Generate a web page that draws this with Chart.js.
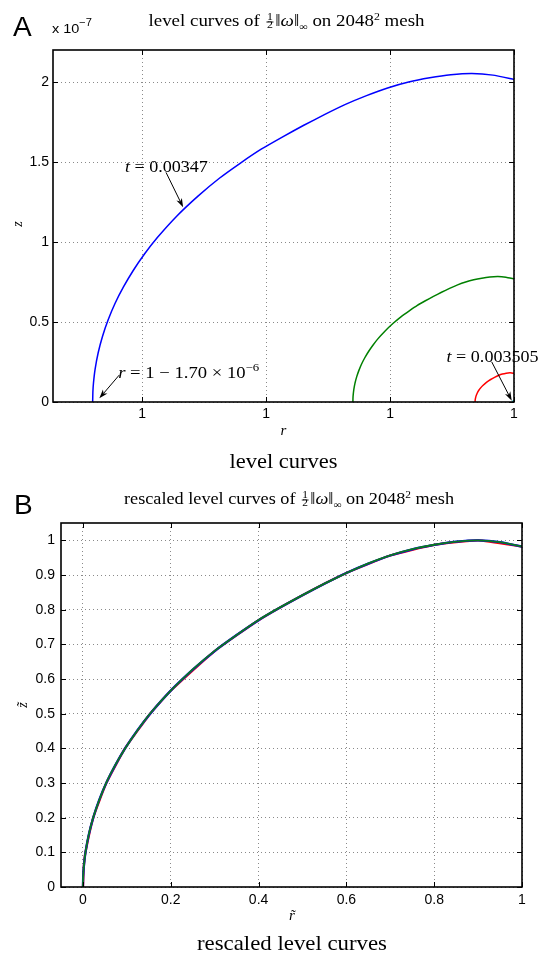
<!DOCTYPE html>
<html>
<head>
<meta charset="utf-8">
<script src="https://cdn.jsdelivr.net/npm/chart.js@4"></script>
<style>
  html, body { margin: 0; padding: 0; background: #fff; }
  body { width: 548px; height: 957px; position: relative; overflow: hidden; }
  .panel { position: absolute; left: 0; width: 548px; }
  #panelA { top: 0; height: 478px; }
  #panelB { top: 478px; height: 479px; }
  canvas { display: block; }
</style>
</head>
<body>
<div class="panel" id="panelA"><canvas id="chartA" width="548" height="478"></canvas></div>
<div class="panel" id="panelB"><canvas id="chartB" width="548" height="479"></canvas></div>
<script>
// ---- Level curves of 1/2 ||omega||_inf on the 2048^2 mesh ----
// r is stored as (r - 1) in units of 1e-6, z in units of 1e-7.

// t = 0.00347
const blueR = [-1.700, -1.6991, -1.6967, -1.6901, -1.6777, -1.6601, -1.6374, -1.6094, -1.5757, -1.5363,
               -1.4909, -1.4389, -1.360, -1.275, -1.190, -1.105, -1.020, -0.935, -0.850, -0.765,
               -0.680, -0.595, -0.510, -0.425, -0.340, -0.255, -0.170, -0.085, 0];
const blueZ = [0, 0.062, 0.119, 0.206, 0.308, 0.411, 0.514, 0.617, 0.719, 0.822,
               0.925, 1.028, 1.163, 1.287, 1.397, 1.492, 1.580, 1.656, 1.728, 1.796,
               1.860, 1.915, 1.963, 2.000, 2.026, 2.045, 2.053, 2.043, 2.016];

// intermediate level
const greenR = [-0.650, -0.6497, -0.6487, -0.6462, -0.6415, -0.6348, -0.6261, -0.6154, -0.6025, -0.5874,
                -0.5700, -0.5502, -0.520, -0.4875, -0.455, -0.4225, -0.390, -0.3575, -0.325, -0.2925,
                -0.260, -0.2275, -0.195, -0.1625, -0.130, -0.0975, -0.065, -0.0325, 0];
const greenZ = [0, 0.024, 0.046, 0.079, 0.118, 0.157, 0.196, 0.236, 0.275, 0.314,
                0.353, 0.393, 0.444, 0.492, 0.534, 0.570, 0.604, 0.633, 0.660, 0.686,
                0.710, 0.732, 0.750, 0.764, 0.774, 0.781, 0.784, 0.780, 0.770];

// red level
const redR = [-0.157, -0.1567, -0.1561, -0.1533, -0.1486, -0.1419, -0.1329, -0.1256,
              -0.1099, -0.0942, -0.0785, -0.0628, -0.0471, -0.0314, -0.0157, 0];
const redZ = [0, 0.0106, 0.0183, 0.0366, 0.0549, 0.0732, 0.0915, 0.1035,
              0.1244, 0.1407, 0.1539, 0.1656, 0.1748, 0.1804, 0.1828, 0.1795];

// t = 0.003505 (tiny curve in the corner)
const cyanR = [-0.006, -0.004, -0.001, 0];
const cyanZ = [0, 0.006, 0.008, 0.008];

// axis ticks
const xTicksA = [-1.5, -1, -0.5, 0];
const xTickLabelsA = ['1', '1', '1', '1'];
const yTicksA = [0, 0.5, 1, 1.5, 2];
const yTickLabelsA = ['0', '0.5', '1', '1.5', '2'];

const xTicksB = [0, 0.2, 0.4, 0.6, 0.8, 1];
const xTickLabelsB = ['0', '0.2', '0.4', '0.6', '0.8', '1'];
const yTicksB = [0, 0.1, 0.2, 0.3, 0.4, 0.5, 0.6, 0.7, 0.8, 0.9, 1];
const yTickLabelsB = ['0', '0.1', '0.2', '0.3', '0.4', '0.5', '0.6', '0.7', '0.8', '0.9', '1'];

// ---------------------------------------------------------------
const SERIF = '"Liberation Serif", "Times New Roman", serif';
const SANS = '"Liberation Sans", Arial, Helvetica, sans-serif';
const GRID = '#8a8a8a';

Chart.defaults.font.family = SANS;
Chart.defaults.color = '#000';

function pts(xs, ys) { return xs.map((x, i) => ({ x: x, y: ys[i] })); }

// rescale a level curve to r~ in [0,1] (r0 .. r=1) and z~ = z / max z
function rescaled(xs, ys) {
  const r0 = xs[0];
  const zmax = Math.max.apply(null, ys);
  return xs.map((x, i) => ({ x: (x - r0) / (0 - r0), y: ys[i] / zmax }));
}

function line(data, color, width) {
  return { data: data, showLine: true, borderColor: color, backgroundColor: color,
           borderWidth: width, pointRadius: 0, tension: 0.15, fill: false };
}

// rich text: runs of text, fractions and gaps, optionally stretched to a width
function measureParts(ctx, parts) {
  let w = 0;
  for (const p of parts) {
    if (p.gap !== undefined) p._w = p.gap;
    else if (p.frac) {
      ctx.font = p.font;
      p._w = Math.max(ctx.measureText(p.frac[0]).width, ctx.measureText(p.frac[1]).width) + 2 * (p.pad || 1);
    } else {
      ctx.font = p.font;
      p._w = ctx.measureText(p.t).width;
    }
    w += p._w;
  }
  return w;
}

function drawParts(ctx, parts, x, y, align, fitWidth) {
  const w = measureParts(ctx, parts);
  const sx = fitWidth ? fitWidth / w : 1;
  const total = w * sx;
  const x0 = align === 'center' ? x - total / 2 : (align === 'right' ? x - total : x);
  ctx.save();
  ctx.translate(x0, y);
  ctx.scale(sx, 1);
  ctx.fillStyle = '#000';
  ctx.strokeStyle = '#000';
  ctx.textBaseline = 'alphabetic';
  ctx.textAlign = 'left';
  let cx = 0;
  for (const p of parts) {
    if (p.gap !== undefined) { cx += p._w; continue; }
    ctx.font = p.font;
    if (p.frac) {
      const mid = cx + p._w / 2;
      ctx.textAlign = 'center';
      ctx.fillText(p.frac[0], mid, -p.axis - 2);
      ctx.fillText(p.frac[1], mid, -p.axis + p.denom);
      ctx.textAlign = 'left';
      ctx.lineWidth = 0.8;
      ctx.beginPath();
      ctx.moveTo(cx + 0.5, -p.axis);
      ctx.lineTo(cx + p._w - 0.5, -p.axis);
      ctx.stroke();
    } else {
      ctx.fillText(p.t, cx, p.dy || 0);
    }
    cx += p._w;
  }
  ctx.restore();
}

function titleParts(prefix) {
  const T = 16, S = 10;
  return [
    { t: prefix + 'level curves of ', font: T + 'px ' + SERIF },
    { gap: 1 },
    { frac: ['1', '2'], font: S + 'px ' + SERIF, axis: 4, denom: 5.5, pad: 1 },
    { gap: 1 },
    { t: '\u2016', font: T + 'px ' + SERIF },
    { t: '\u03c9', font: 'italic ' + T + 'px ' + SERIF },
    { t: '\u2016', font: T + 'px ' + SERIF },
    { t: '\u221e', font: S + 'px ' + SERIF, dy: 3.5 },
    { t: ' on 2048', font: T + 'px ' + SERIF },
    { t: '2', font: S + 'px ' + SERIF, dy: -6.5 },
    { t: ' mesh', font: T + 'px ' + SERIF }
  ];
}

function drawArrow(ctx, x1, y1, x2, y2) {
  const ang = Math.atan2(y2 - y1, x2 - x1);
  const L = 9, W = 3, back = 6.5;
  ctx.save();
  ctx.strokeStyle = '#000';
  ctx.fillStyle = '#000';
  ctx.lineWidth = 1;
  ctx.beginPath();
  ctx.moveTo(x1, y1);
  ctx.lineTo(x2 - Math.cos(ang) * back, y2 - Math.sin(ang) * back);
  ctx.stroke();
  ctx.translate(x2, y2);
  ctx.rotate(ang);
  ctx.beginPath();
  ctx.moveTo(0, 0);
  ctx.lineTo(-L, -W);
  ctx.lineTo(-back, 0);
  ctx.lineTo(-L, W);
  ctx.closePath();
  ctx.fill();
  ctx.restore();
}

// box around the axes with inward tick marks on all four sides
const boxPlugin = {
  id: 'axesBox',
  afterDatasetsDraw(chart) {
    const { ctx, chartArea: a, scales } = chart;
    const len = 5;
    ctx.save();
    ctx.strokeStyle = '#000';
    ctx.lineWidth = 1;
    ctx.beginPath();
    scales.x.ticks.forEach(t => {
      const px = Math.round(scales.x.getPixelForValue(t.value)) + 0.5;
      ctx.moveTo(px, a.bottom); ctx.lineTo(px, a.bottom - len);
      ctx.moveTo(px, a.top); ctx.lineTo(px, a.top + len);
    });
    scales.y.ticks.forEach(t => {
      const py = Math.round(scales.y.getPixelForValue(t.value)) + 0.5;
      ctx.moveTo(a.left, py); ctx.lineTo(a.left + len, py);
      ctx.moveTo(a.right, py); ctx.lineTo(a.right - len, py);
    });
    ctx.stroke();
    ctx.lineWidth = 1.6;
    ctx.strokeRect(a.left, a.top, a.right - a.left, a.bottom - a.top);
    ctx.restore();
  }
};

function rotatedText(ctx, text, font, x, y) {
  ctx.save();
  ctx.translate(x, y);
  ctx.rotate(-Math.PI / 2);
  ctx.font = font;
  ctx.fillStyle = '#000';
  ctx.textAlign = 'center';
  ctx.textBaseline = 'middle';
  ctx.fillText(text, 0, 0);
  ctx.restore();
}

function axisOptions(ticks, labels, min, max, size, padding) {
  return {
    type: 'linear',
    min: min,
    max: max,
    afterBuildTicks: s => { s.ticks = ticks.map(v => ({ value: v })); },
    afterFit: s => { if (s.isHorizontal()) s.height = size; else s.width = size; },
    ticks: {
      callback: (v, i) => labels[i],
      font: { family: SANS, size: 14 },
      color: '#000',
      padding: padding,
      autoSkip: false,
      maxRotation: 0,
      minRotation: 0
    },
    grid: { color: GRID, lineWidth: 1, drawTicks: false },
    border: { display: false, dash: [1, 3] }
  };
}

// ---------------- Panel A ----------------
const annotationsA = {
  id: 'annotationsA',
  afterDraw(chart) {
    const { ctx, scales: { x, y } } = chart;
    const px = v => x.getPixelForValue(v);
    const py = v => y.getPixelForValue(v);

    // panel letter and title
    ctx.save();
    ctx.fillStyle = '#000';
    ctx.font = '28px ' + SANS;
    ctx.textBaseline = 'alphabetic';
    ctx.fillText('A', 13, 36);
    ctx.restore();
    drawParts(ctx, titleParts(''), 286.5, 26, 'center', 276);

    // exponent of the z axis
    drawParts(ctx, [
      { t: 'x 10', font: '13px ' + SANS },
      { t: '\u22127', font: '10px ' + SANS, dy: -7 }
    ], 52, 33, 'left', 40);

    // axis labels and caption
    drawParts(ctx, [{ t: 'r', font: 'italic 15px ' + SERIF }], 283.5, 435, 'center');
    rotatedText(ctx, 'z', 'italic 14px ' + SERIF, 18, 224);
    drawParts(ctx, [{ t: 'level curves', font: '21px ' + SERIF }], 283.5, 468, 'center', 108);

    // curve labels with arrows
    drawParts(ctx, [
      { t: 't', font: 'italic 16px ' + SERIF },
      { t: ' = 0.00347', font: '16px ' + SERIF }
    ], px(-1.570), py(1.439), 'left', 83);
    drawArrow(ctx, px(-1.404), py(1.435), px(-1.335), py(1.217));

    drawParts(ctx, [
      { t: 'r', font: 'italic 16px ' + SERIF },
      { t: ' = 1 \u2212 1.70 \u00d7 10', font: '16px ' + SERIF },
      { t: '\u22126', font: '11px ' + SERIF, dy: -7 }
    ], px(-1.597), py(0.148), 'left', 141);
    drawArrow(ctx, px(-1.593), py(0.168), px(-1.673), py(0.023));

    drawParts(ctx, [
      { t: 't', font: 'italic 16px ' + SERIF },
      { t: ' = 0.003505', font: '16px ' + SERIF }
    ], px(-0.272), py(0.251), 'left', 92);
    drawArrow(ctx, px(-0.090), py(0.251), px(-0.009), py(0.008));
  }
};

new Chart(document.getElementById('chartA'), {
  type: 'scatter',
  data: {
    datasets: [
      line(pts(cyanR, cyanZ), '#00bfbf', 1.5),
      line(pts(redR, redZ), '#ff0000', 1.5),
      line(pts(greenR, greenZ), '#008000', 1.5),
      line(pts(blueR, blueZ), '#0000ff', 1.5)
    ]
  },
  options: {
    responsive: false,
    animation: false,
    events: [],
    layout: { padding: { top: 50, right: 34, left: 0, bottom: 0 } },
    plugins: { legend: { display: false }, tooltip: { enabled: false }, title: { display: false } },
    scales: {
      x: axisOptions(xTicksA, xTickLabelsA, -1.86, 0, 76, 4),
      y: axisOptions(yTicksA, yTickLabelsA, 0, 2.2, 53, 4)
    }
  },
  plugins: [boxPlugin, annotationsA]
});

// ---------------- Panel B ----------------
const annotationsB = {
  id: 'annotationsB',
  afterDraw(chart) {
    const { ctx } = chart;
    ctx.save();
    ctx.fillStyle = '#000';
    ctx.font = '28px ' + SANS;
    ctx.textBaseline = 'alphabetic';
    ctx.fillText('B', 14, 36);
    ctx.restore();
    drawParts(ctx, titleParts('rescaled '), 289, 26, 'center', 330);

    drawParts(ctx, [{ t: 'r\u0303', font: 'italic 15px ' + SERIF }], 292, 442, 'center');
    rotatedText(ctx, 'z\u0303', 'italic 14px ' + SERIF, 23, 227);
    drawParts(ctx, [{ t: 'rescaled level curves', font: '21px ' + SERIF }], 292, 472, 'center', 190);
  }
};

new Chart(document.getElementById('chartB'), {
  type: 'scatter',
  data: {
    datasets: [
      line(rescaled(greenR, greenZ), '#0a7a1e', 1.8),
      line(rescaled(blueR, blueZ), '#0000ff', 2.3),
      line(rescaled(redR, redZ), '#ff0000', 2.3)
    ]
  },
  options: {
    responsive: false,
    animation: false,
    events: [],
    layout: { padding: { top: 45, right: 26, left: 0, bottom: 0 } },
    plugins: { legend: { display: false }, tooltip: { enabled: false }, title: { display: false } },
    scales: {
      x: axisOptions(xTicksB, xTickLabelsB, -0.05, 1, 70, 5),
      y: axisOptions(yTicksB, yTickLabelsB, 0, 1.05, 61, 6)
    }
  },
  plugins: [boxPlugin, annotationsB]
});
</script>
</body>
</html>
